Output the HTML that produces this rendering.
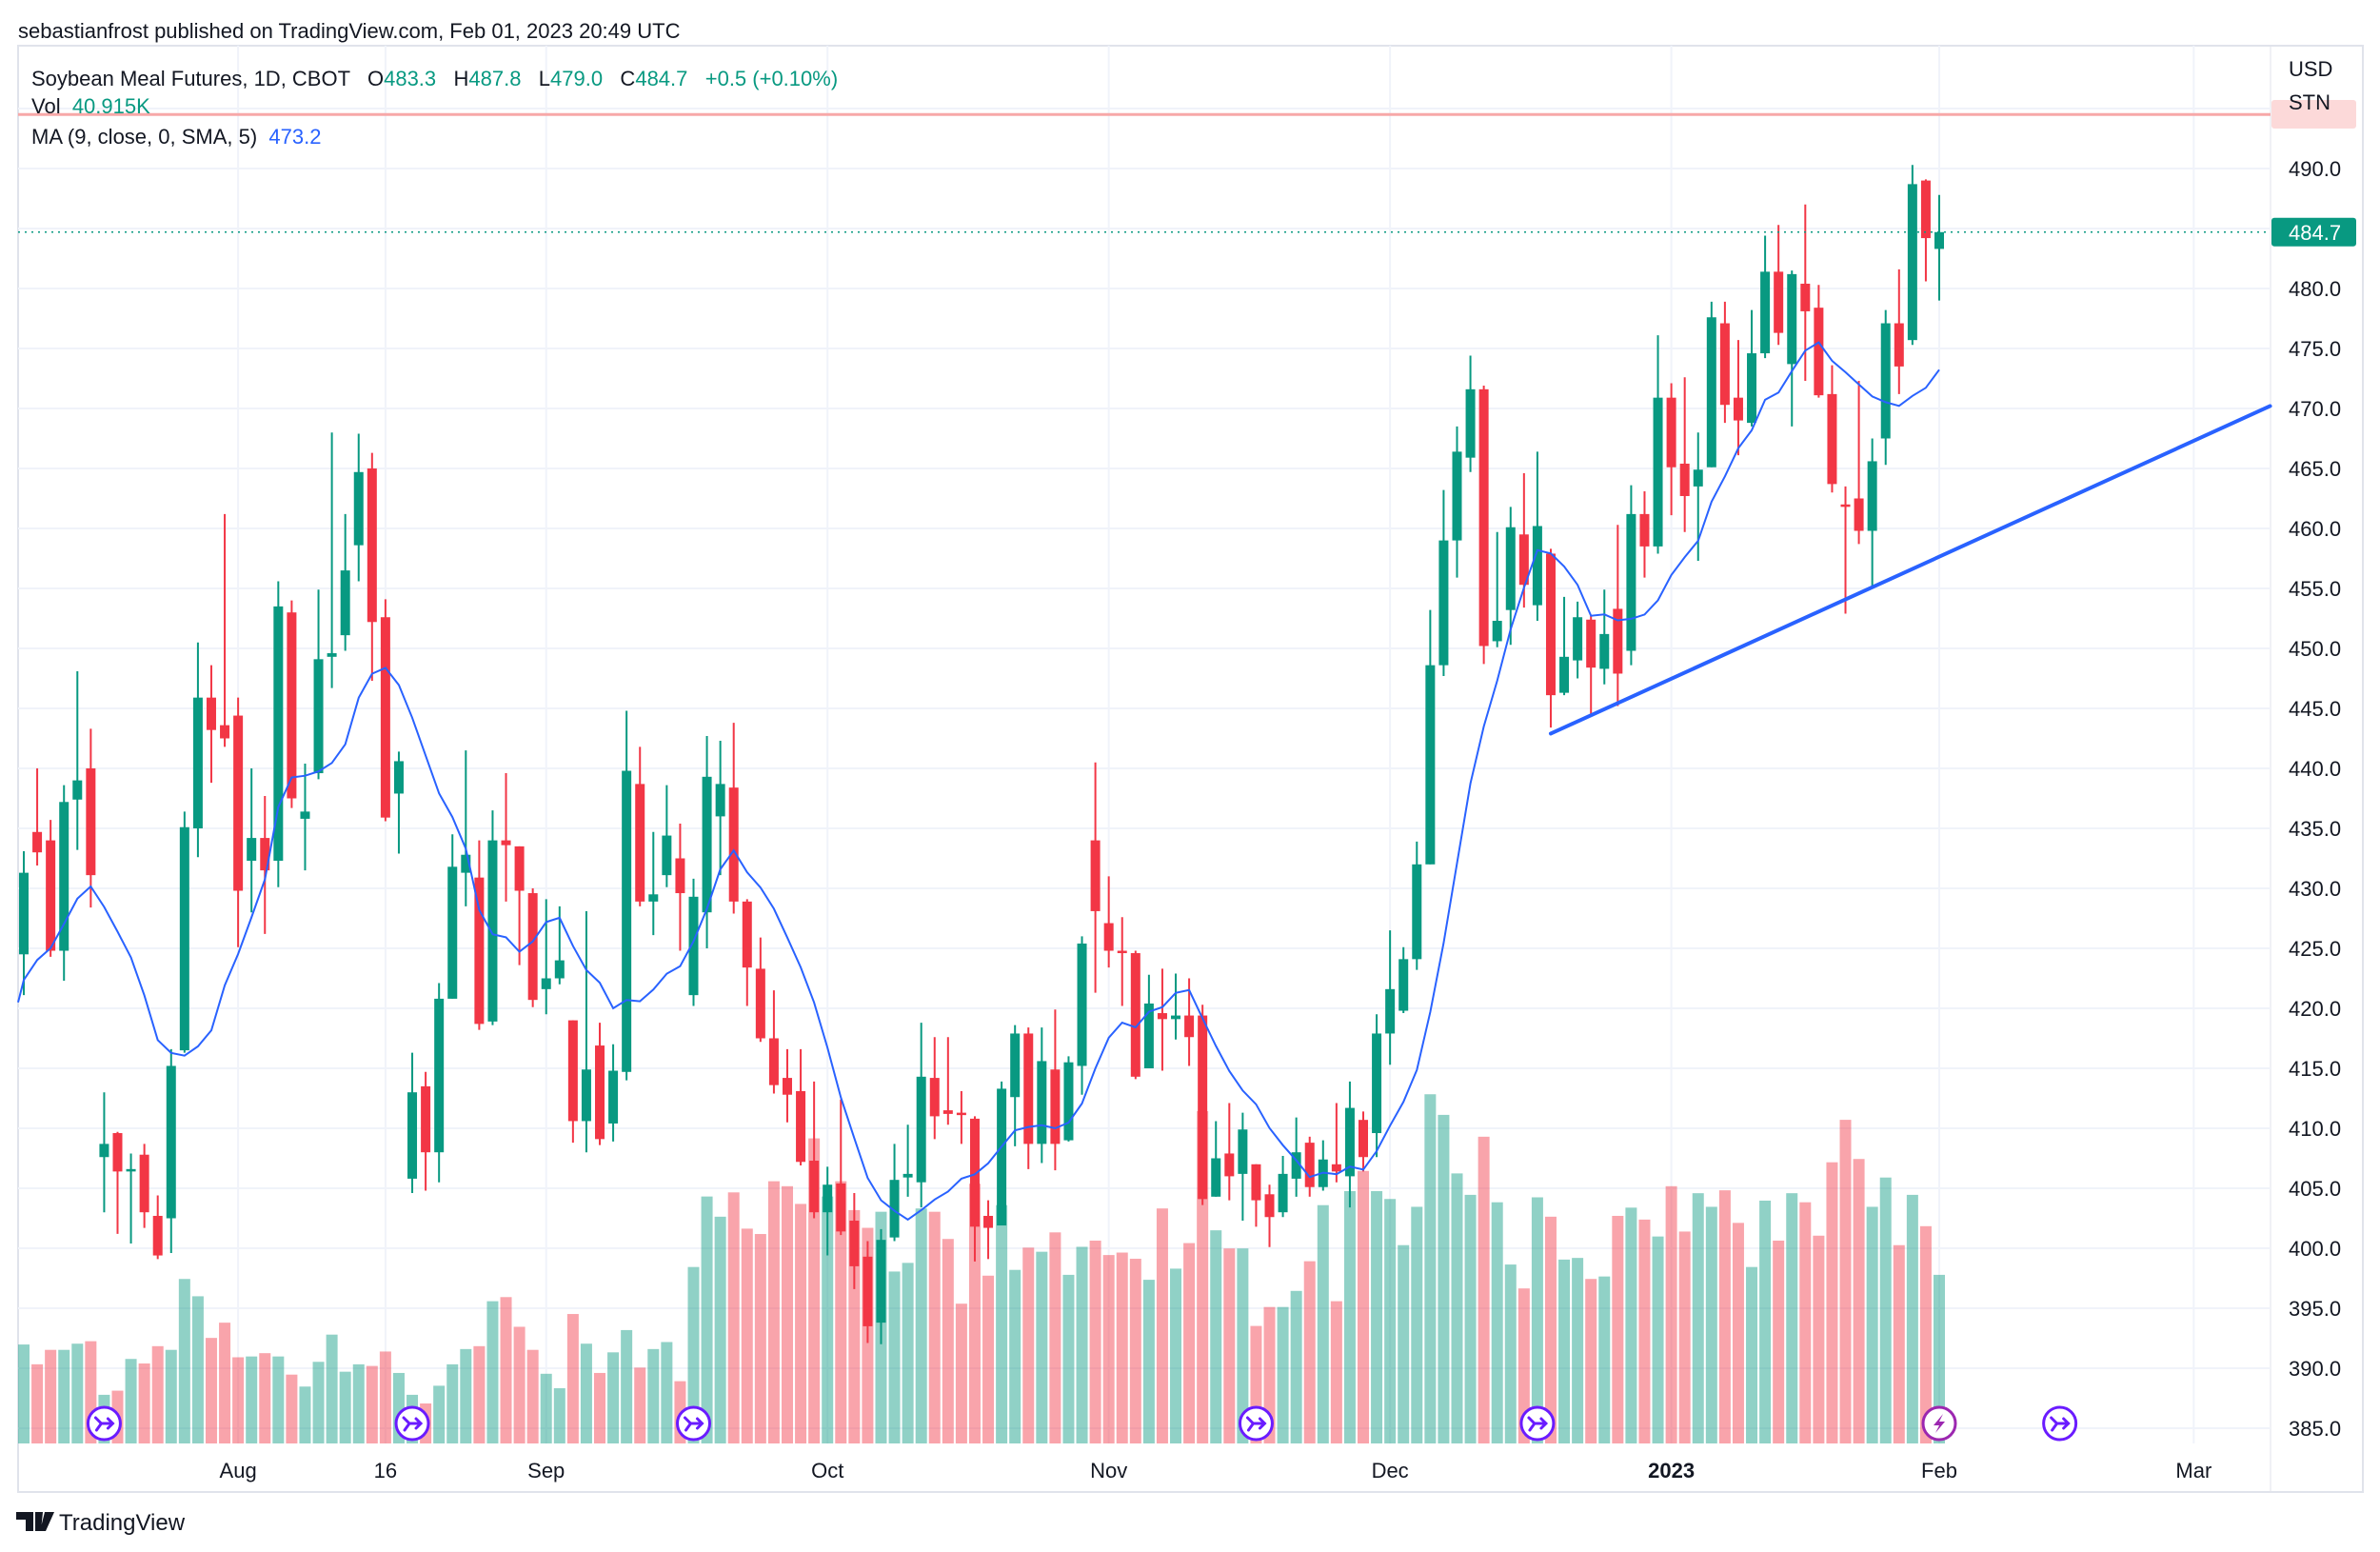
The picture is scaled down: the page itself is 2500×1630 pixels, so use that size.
<!DOCTYPE html>
<html><head><meta charset="utf-8"><style>
html,body{margin:0;padding:0;background:#fff;}
svg{display:block;font-family:"Liberation Sans",sans-serif;}
.pre{white-space:pre;}
</style></head><body>
<svg id="chart" width="2500" height="1630" viewBox="0 0 2500 1630" xmlns="http://www.w3.org/2000/svg">
<rect x="0" y="0" width="2500" height="1630" fill="#ffffff"/>
<text x="19" y="40" font-size="22" fill="#131722">sebastianfrost published on TradingView.com, Feb 01, 2023 20:49 UTC</text>
<rect x="19" y="48" width="2463" height="1519" fill="none" stroke="#e0e3eb" stroke-width="2"/>
<line x1="2385" y1="48" x2="2385" y2="1567" stroke="#e0e3eb" stroke-width="1"/>
<g id="grid"></g>
<g id="vol"></g>
<line id="redline" x1="19" x2="2385" stroke="#f7a8a8" stroke-width="3"/>
<g id="candles"></g>
<polyline id="ma" fill="none" stroke="#2962ff" stroke-width="2"/>
<line id="trend" stroke="#2962ff" stroke-width="4" stroke-linecap="round"/>
<line id="lastline" x1="19" x2="2385" stroke="#089981" stroke-width="1.5" stroke-dasharray="2,5"/>
<g id="events"></g>
<g id="yaxis"></g>
<g id="xaxis"></g>
<rect x="2386" y="105" width="89" height="30" rx="3" fill="#fbd0d0" opacity="0.8"/>
<text x="2404" y="80" font-size="22" fill="#131722">USD</text>
<text x="2404" y="115" font-size="22" fill="#131722">STN</text>
<rect id="lastbadge" x="2386" width="89" height="30" rx="3" fill="#089981"/>
<text id="lastbadgetext" x="2404" font-size="22" fill="#ffffff"></text>
<text class="pre" x="33" y="90" font-size="22" fill="#131722">Soybean Meal Futures, 1D, CBOT   O<tspan fill="#089981">483.3</tspan>   H<tspan fill="#089981">487.8</tspan>   L<tspan fill="#089981">479.0</tspan>   C<tspan fill="#089981">484.7</tspan>   <tspan fill="#089981">+0.5 (+0.10%)</tspan></text>
<text class="pre" x="33" y="119" font-size="22" fill="#131722">Vol  <tspan fill="#089981">40.915K</tspan></text>
<text class="pre" x="33" y="151" font-size="22" fill="#131722">MA (9, close, 0, SMA, 5)  <tspan fill="#2962ff">473.2</tspan></text>
<g>
<path d="M17 1588 h18 v20 h-8 v-12 h-10 z M37 1588 h8 l-2 20 h-6 z M47 1588 h10 l-9 20 h-6 z" fill="#131722"/>
<text x="62" y="1607" font-size="24" fill="#131722">TradingView</text>
</g>
</svg>
<script>
const opens=[424.5,434.7,434.0,424.8,437.4,440.0,407.6,409.6,406.4,407.8,402.7,402.5,416.5,435.0,445.9,443.6,444.4,432.3,434.2,432.3,453.0,435.8,439.6,449.3,451.1,458.6,465.0,452.6,437.9,405.8,413.5,408.0,420.8,431.3,430.9,418.9,434.0,433.5,429.6,421.6,422.5,419.0,410.6,416.9,410.4,414.7,438.7,428.9,431.1,432.5,421.1,428.0,436.0,438.4,428.9,423.3,417.5,414.2,413.1,407.3,403.0,405.4,402.3,399.3,393.8,400.9,405.9,405.5,414.2,411.5,411.3,410.8,402.7,401.9,412.6,417.9,408.7,414.9,409.0,415.2,434.0,427.1,424.8,424.6,415.0,419.6,419.1,419.4,419.4,404.3,407.9,406.2,407.0,404.5,403.0,405.8,408.8,405.1,407.0,406.0,410.7,409.6,417.9,419.8,424.1,432.0,448.6,459.0,465.9,471.6,450.6,453.2,459.5,453.6,457.9,446.3,449.0,452.4,448.3,453.3,449.8,461.2,458.5,470.9,465.4,463.5,465.1,477.1,470.9,468.8,474.6,481.4,473.7,480.4,478.4,471.2,462.0,462.5,459.8,467.5,477.1,475.7,489.0,483.3];
const highs=[433.1,440.0,435.7,438.6,448.1,443.3,413.0,409.7,407.9,408.7,404.4,416.6,436.4,450.5,448.6,461.2,445.9,440.0,437.7,455.6,454.0,440.4,454.9,468.0,461.2,467.9,466.3,454.1,441.4,416.3,414.7,422.1,434.5,441.5,434.0,436.5,439.6,433.5,430.0,429.1,428.5,419.0,428.1,418.8,417.0,444.8,441.8,434.7,438.6,435.4,430.8,442.7,442.3,443.8,429.1,425.9,421.5,416.6,416.6,413.9,406.8,412.4,404.6,400.6,401.6,408.7,410.3,418.8,417.6,417.6,413.1,411.0,404.0,413.9,418.6,418.4,418.4,419.9,416.0,426.0,440.5,431.0,427.6,424.8,422.8,423.3,422.9,422.5,420.3,410.6,412.1,411.3,407.0,405.3,407.7,410.9,409.3,409.0,412.1,413.9,411.4,419.5,426.5,425.1,433.9,453.2,463.2,468.5,474.4,471.9,459.7,461.8,464.6,466.4,458.3,454.3,453.9,452.7,454.9,460.3,463.6,463.1,476.1,472.1,472.6,468.0,478.9,478.9,475.7,478.2,484.4,485.3,481.5,487.0,480.3,473.6,463.5,472.3,467.5,478.2,481.6,490.3,489.1,487.8];
const lows=[421.1,431.9,424.3,422.3,433.2,428.4,403.0,401.2,400.4,401.7,399.1,399.6,416.3,432.6,438.8,441.8,425.1,428.0,426.2,430.1,436.7,431.5,439.1,446.7,449.8,455.6,447.3,435.6,432.9,404.6,404.8,405.5,420.8,428.5,418.2,418.6,428.9,423.6,420.1,419.5,422.0,408.8,408.0,408.6,408.9,414.0,428.5,426.1,430.1,424.8,420.2,425.0,431.1,427.9,420.2,417.2,412.9,410.5,406.9,402.5,399.4,401.1,396.6,392.1,392.0,400.6,404.3,403.4,409.1,410.3,408.7,398.9,399.1,401.9,408.5,406.6,407.1,406.5,408.9,412.8,421.3,423.4,420.2,414.1,415.0,414.8,417.4,415.2,403.6,404.3,404.0,402.3,401.8,400.1,402.6,404.3,404.3,404.8,405.5,403.4,406.4,407.6,415.3,419.6,423.2,432.0,447.7,455.9,464.7,448.7,450.1,450.3,453.4,452.3,443.4,446.1,447.5,444.5,447.0,445.2,448.6,455.9,457.9,461.1,459.7,457.3,465.1,468.8,466.1,468.5,474.2,475.3,468.5,472.3,470.9,463.0,452.9,458.7,455.0,465.3,471.2,475.3,480.6,479.0];
const closes=[431.3,433.0,424.8,437.2,439.0,431.1,408.7,406.4,406.6,403.0,399.4,415.2,435.1,445.9,443.2,442.5,429.8,434.2,431.5,453.5,437.5,436.4,449.1,449.6,456.5,464.7,452.2,435.9,440.6,413.0,408.0,420.8,431.8,432.8,418.7,434.0,433.6,429.8,420.7,422.5,424.0,410.6,414.9,409.1,414.8,439.8,428.9,429.5,434.4,429.6,429.3,439.3,438.7,428.9,423.4,417.5,413.6,412.8,407.2,403.0,405.3,401.4,398.5,393.5,400.7,405.7,406.2,414.3,411.0,411.2,411.1,401.8,401.7,413.3,417.9,408.7,415.6,408.7,415.5,425.4,428.1,424.8,424.6,414.3,420.4,419.1,419.4,417.6,404.1,407.5,406.0,409.9,404.0,402.6,406.2,408.0,405.1,407.4,406.4,411.7,407.6,417.9,421.6,424.1,432.0,448.6,459.0,466.4,471.6,450.2,452.3,460.1,455.3,460.2,446.1,449.3,452.6,448.4,451.2,447.9,461.2,458.5,470.9,465.1,462.7,464.9,477.6,470.3,469.0,474.6,481.4,476.3,481.2,478.1,471.1,463.7,461.8,459.8,465.6,477.1,473.5,488.7,484.2,484.7];
const volumes=[24.0,19.2,22.7,22.7,24.2,24.8,11.8,12.8,20.5,19.4,23.6,22.7,39.9,35.7,25.6,29.3,20.9,21.1,21.9,21.1,16.7,13.8,19.8,26.4,17.4,19.2,18.8,22.3,17.1,11.8,9.7,14.0,19.2,22.9,23.6,34.5,35.5,28.3,22.7,16.9,13.4,31.4,24.2,17.1,22.1,27.5,18.4,22.9,24.6,15.1,42.8,59.9,55.0,60.9,52.1,50.8,63.6,62.4,58.1,74.0,59.9,63.6,56.6,52.3,56.2,41.7,43.8,57.0,56.2,49.6,33.9,63.0,40.7,57.8,42.1,47.5,46.5,51.2,40.9,47.7,49.2,45.7,46.3,44.8,39.7,57.0,42.4,48.6,80.6,51.7,47.3,47.3,28.5,33.1,33.1,37.0,44.2,57.8,34.5,61.2,66.1,61.2,59.3,48.1,57.4,84.7,79.7,65.5,60.3,74.4,58.5,43.4,37.6,59.7,55.0,44.6,45.0,39.9,40.5,55.2,57.2,54.3,50.2,62.4,51.4,60.7,57.4,61.4,53.5,42.8,58.9,49.2,60.7,58.5,50.4,68.2,78.5,69.0,57.4,64.5,48.1,60.3,52.7,40.9];
const prevCloses=[418,416,419,420,422,424,425,426];
const priceTicks=[490,480,475,470,465,460,455,450,445,440,435,430,425,420,415,410,405,400,395,390,385];
const gridPrices=[495,490,485,480,475,470,465,460,455,450,445,440,435,430,425,420,415,410,405,400,395,390,385];
const monthLabels=["Aug","16","Sep","Oct","Nov","Dec","2023","Feb","Mar"];
const monthIndex=[16,27,39,60,81,102,123,143,162];
const eventIndex=[6,29,50,92,113,143,152];
const eventType=["div","div","div","div","div","earn","div"];
const trendStart=[114,442.9];
const trendEnd=[167.7,470.2];
const alertPrice=494.5;
const lastPrice=484.7;

const NS="http://www.w3.org/2000/svg";
const X0=25, STEP=14.07, PTOP=177, PPU=12.6, VBASE=1516, VPX=4.33;
function xs(i){return X0+i*STEP;}
function ys(p){return PTOP+(490-p)*PPU;}
function vh(v){return v*VPX;}
function mk(tag,attrs,parent){const e=document.createElementNS(NS,tag);for(const k in attrs)e.setAttribute(k,attrs[k]);parent.appendChild(e);return e;}

const grid=document.getElementById('grid');
gridPrices.forEach(p=>{
  const l=mk('line',{x1:19,x2:2385,y1:ys(p),y2:ys(p),stroke:'#f0f3fa','stroke-width':2},grid);
  
  
});
monthIndex.forEach(i=>{
  const l=mk('line',{x1:xs(i),x2:xs(i),y1:48,y2:1516,stroke:'#f0f3fa','stroke-width':2},grid);
  
  
});

const vg=document.getElementById('vol');
const cg=document.getElementById('candles');
for(let i=0;i<closes.length;i++){
  const up=closes[i]>=opens[i];
  const h=vh(volumes[i]);
  const vb=mk('rect',{x:xs(i)-6,y:VBASE-h,width:12,height:h,fill:up?'#089981':'#f23645','fill-opacity':0.45},vg);
  
  
  const col=up?'#089981':'#f23645';
  const w=mk('line',{x1:xs(i),x2:xs(i),y1:ys(highs[i]),y2:ys(lows[i]),stroke:col,'stroke-width':2},cg);
  
  
  const top=ys(Math.max(opens[i],closes[i])), bot=ys(Math.min(opens[i],closes[i]));
  const b=mk('rect',{x:xs(i)-5,y:top,width:10,height:Math.max(2,bot-top),fill:col},cg);
  
  
}
const all=prevCloses.concat(closes);
let pts=[];
for(let i=0;i<closes.length;i++){
  let s=0;for(let k=0;k<9;k++)s+=all[i+8-k];
  pts.push(xs(i).toFixed(1)+','+ys(s/9).toFixed(1));
}
pts.unshift('19,'+ys(420.5).toFixed(1));
document.getElementById('ma').setAttribute('points',pts.join(' '));

const tr=document.getElementById('trend');
tr.setAttribute('x1',xs(trendStart[0]));tr.setAttribute('y1',ys(trendStart[1]));
tr.setAttribute('x2',xs(trendEnd[0]));tr.setAttribute('y2',ys(trendEnd[1]));
const rl=document.getElementById('redline');
rl.setAttribute('y1',ys(alertPrice));rl.setAttribute('y2',ys(alertPrice));
const ll=document.getElementById('lastline');
ll.setAttribute('y1',ys(lastPrice));ll.setAttribute('y2',ys(lastPrice));
document.getElementById('lastbadge').setAttribute('y',ys(lastPrice)-15);
const lbt=document.getElementById('lastbadgetext');
lbt.setAttribute('y',ys(lastPrice)+8);lbt.textContent=lastPrice.toFixed(1);

const ya=document.getElementById('yaxis');
priceTicks.forEach(p=>{
  const t=mk('text',{x:2404,y:ys(p)+8,'font-size':22,fill:'#131722'},ya);
  t.textContent=p.toFixed(1);
  
  
});
const xa=document.getElementById('xaxis');
monthLabels.forEach((m,k)=>{
  const t=mk('text',{x:xs(monthIndex[k]),y:1552,'font-size':22,fill:'#131722','text-anchor':'middle','font-weight':m==='2023'?'bold':'normal'},xa);
  t.textContent=m;
  
  
});
const eg=document.getElementById('events');
eventIndex.forEach((i,k)=>{
  const g=mk('g',{},eg);
  
  
  const cx=xs(i), cy=1495, col=eventType[k]==='earn'?'#9c27b0':'#6a1bff';
  mk('circle',{cx:cx,cy:cy,r:17,fill:'#ffffff',stroke:col,'stroke-width':3},g);
  if(eventType[k]==='earn'){
    mk('path',{d:`M${cx+4} ${cy-10} L${cx-6} ${cy+2} L${cx} ${cy+2} L${cx-4} ${cy+10} L${cx+6} ${cy-2} L${cx} ${cy-2} Z`,fill:col},g);
  }else{
    mk('path',{d:`M${cx-9} ${cy-6} L${cx-3} ${cy} L${cx+9} ${cy} M${cx+4} ${cy-5} L${cx+9} ${cy} L${cx+4} ${cy+5} M${cx-3} ${cy} L${cx-8} ${cy+7}`,fill:'none',stroke:col,'stroke-width':3,'stroke-linecap':'round'},g);
  }
});
</script>
</body></html>
